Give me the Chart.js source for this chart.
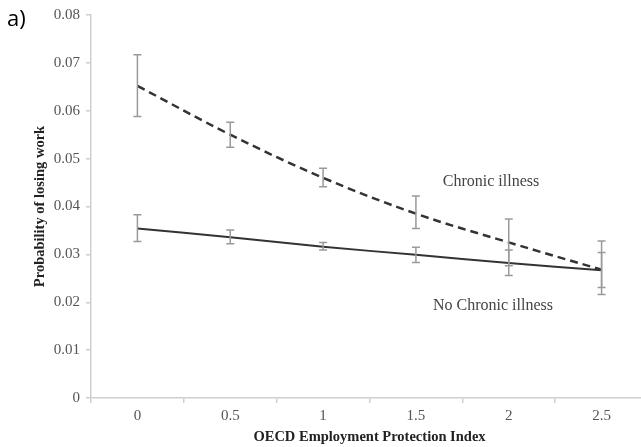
<!DOCTYPE html>
<html>
<head>
<meta charset="utf-8">
<script src="https://cdn.jsdelivr.net/npm/chart.js@4/dist/chart.umd.min.js"></script>
<style>
  html, body { margin: 0; padding: 0; background: #fff; overflow: hidden; }
  #wrap { position: relative; width: 648px; height: 447px; }
</style>
</head>
<body>
<div id="wrap"><canvas id="chart" width="648" height="447"></canvas></div>
<script>
// --- Datos ---
const categories = ["0", "0.5", "1", "1.5", "2", "2.5"];

const chronic     = [0.0652, 0.0550, 0.0460, 0.0385, 0.0325, 0.0268];
const chronicLow  = [0.0588, 0.0524, 0.0441, 0.0354, 0.0276, 0.0216];
const chronicHigh = [0.0717, 0.0576, 0.0480, 0.0422, 0.0374, 0.0328];

const noChronic     = [0.0354, 0.0336, 0.0316, 0.0299, 0.0282, 0.0267];
const noChronicLow  = [0.0327, 0.0322, 0.0309, 0.0283, 0.0256, 0.0231];
const noChronicHigh = [0.0383, 0.0351, 0.0325, 0.0315, 0.0309, 0.0304];

const yTicks = [0, 0.01, 0.02, 0.03, 0.04, 0.05, 0.06, 0.07, 0.08];

const serif = "'Liberation Serif', 'Times New Roman', serif";

// --- Barras de error ---
const errorBars = {
  id: "errorBars",
  afterDatasetsDraw(chart) {
    const { ctx, scales: { x, y } } = chart;
    const sets = [[chronicLow, chronicHigh], [noChronicLow, noChronicHigh]];
    ctx.save();
    ctx.strokeStyle = "#9a9a9a";
    ctx.lineWidth = 1.5;
    sets.forEach(([lo, hi]) => {
      categories.forEach((c, i) => {
        const px = x.getPixelForValue(i);
        const y1 = y.getPixelForValue(lo[i]);
        const y2 = y.getPixelForValue(hi[i]);
        ctx.beginPath();
        ctx.moveTo(px, y1); ctx.lineTo(px, y2);
        ctx.moveTo(px - 4, y1); ctx.lineTo(px + 4, y1);
        ctx.moveTo(px - 4, y2); ctx.lineTo(px + 4, y2);
        ctx.stroke();
      });
    });
    ctx.restore();
  }
};

// --- Etiquetas de texto ---
const labels = {
  id: "labels",
  afterDraw(chart) {
    const ctx = chart.ctx;
    ctx.save();
    ctx.textBaseline = "middle";
    ctx.fillStyle = "#000";
    ctx.font = "22px 'Open Sans', 'Liberation Sans', sans-serif";
    ctx.textAlign = "left";
    ctx.fillText("a)", 7, 20);
    ctx.fillStyle = "#444";
    ctx.font = "16px " + serif;
    ctx.textAlign = "center";
    ctx.fillText("Chronic illness", 491, 182);
    ctx.fillText("No Chronic illness", 493, 306);
    ctx.restore();
  }
};

new Chart(document.getElementById("chart"), {
  type: "line",
  data: {
    labels: categories,
    datasets: [
      {
        label: "Chronic illness",
        data: chronic,
        borderColor: "#333",
        borderWidth: 2.5,
        borderDash: [8, 5],
        tension: 0.35,
        pointRadius: 0
      },
      {
        label: "No Chronic illness",
        data: noChronic,
        borderColor: "#333",
        borderWidth: 2,
        tension: 0.35,
        pointRadius: 0
      }
    ]
  },
  options: {
    responsive: false,
    animation: false,
    layout: { padding: { top: 12, right: 0, bottom: 0, left: 0 } },
    plugins: { legend: { display: false }, tooltip: { enabled: false } },
    scales: {
      x: {
        offset: true,
        grid: { offset: true, drawOnChartArea: false, drawTicks: true, tickLength: 5, color: "#cfcfcf", lineWidth: 1.5 },
        border: { color: "#cfcfcf", width: 1.5 },
        ticks: { color: "#555", font: { family: serif, size: 15 }, padding: 4, maxRotation: 0 },
        title: { display: true, text: "OECD Employment Protection Index", color: "#222",
                 font: { family: serif, size: 14.5, weight: "bold" }, padding: { top: 0, bottom: 1 } },
        afterFit(scale) { scale.height = 49; }
      },
      y: {
        min: 0,
        max: 0.08,
        afterBuildTicks(scale) { scale.ticks = yTicks.map(v => ({ value: v })); },
        grid: { drawOnChartArea: false, drawTicks: true, tickLength: 5, color: "#cfcfcf", lineWidth: 1.5 },
        border: { color: "#cfcfcf", width: 1.5 },
        ticks: { color: "#555", font: { family: serif, size: 15 }, padding: 6,
                 callback: v => v === 0 ? "0" : v.toFixed(2) },
        title: { display: true, text: "Probability of losing work", color: "#222",
                 font: { family: serif, size: 14.5, weight: "bold" }, padding: { top: 32, bottom: 0 } },
        afterFit(scale) { scale.width = 91; }
      }
    }
  },
  plugins: [errorBars, labels]
});
</script>
</body>
</html>
